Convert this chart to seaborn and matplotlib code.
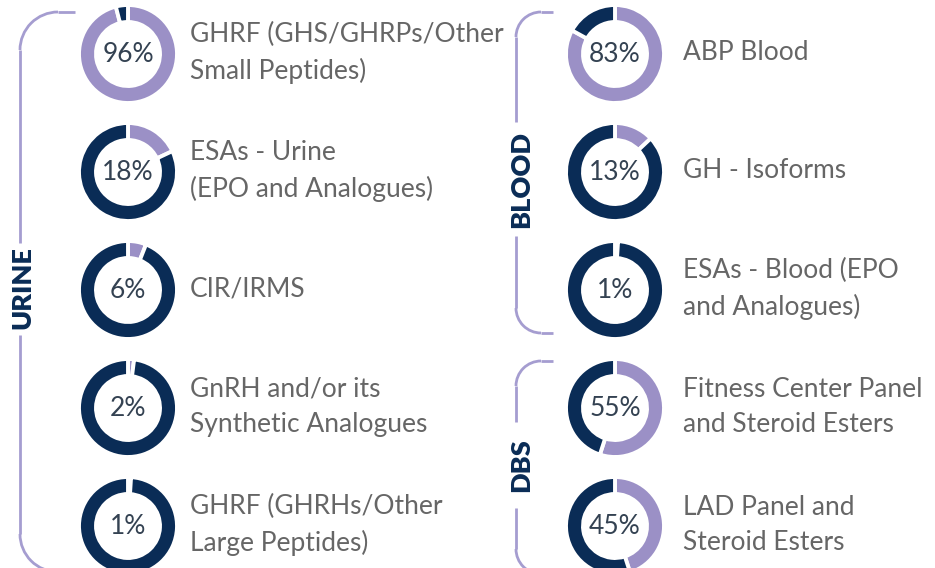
import seaborn as sns
import matplotlib.pyplot as plt
from matplotlib.patches import Arc

# data
urine_labels = ["GHRF (GHS/GHRPs/Other\nSmall Peptides)",
                "ESAs - Urine\n(EPO and Analogues)",
                "CIR/IRMS",
                "GnRH and/or its\nSynthetic Analogues",
                "GHRF (GHRHs/Other\nLarge Peptides)"]
urine_pct = [96, 18, 6, 2, 1]

blood_labels = ["ABP Blood",
                "GH - Isoforms",
                "ESAs - Blood (EPO\nand Analogues)"]
blood_pct = [83, 13, 1]

dbs_labels = ["Fitness Center Panel\nand Steroid Esters",
              "LAD Panel and\nSteroid Esters"]
dbs_pct = [55, 45]

sns.set_theme(style="white")
plt.rcParams["font.family"] = ["Lato", "DejaVu Sans"]

lav = "#9b90c6"
navy = "#0a2c56"
bracket_col = "#a59dd0"
text_col = "#666666"
pct_col = "#344252"

W, H = 935, 568
fig = plt.figure(figsize=(W / 100, H / 100), dpi=100)
ax = fig.add_axes([0, 0, 1, 1])

row_y = [54 + 118 * i for i in range(5)]
outer_r = 49
ring_w = 17


def donut(cx, cy, pct, label, off):
    ax.pie([pct, 100 - pct], colors=[lav, navy], startangle=-90,
           counterclock=True, center=(cx, cy), radius=outer_r, frame=True,
           wedgeprops=dict(width=ring_w, edgecolor="white", linewidth=2.8))
    ax.text(cx, cy + 1, f"{pct}%", ha="center", va="center",
            fontsize=19, color=pct_col)
    ax.text(cx + off, cy - 1, label, ha="left", va="center", fontsize=19,
            color=text_col, linespacing=1.5)


for y, p, lab in zip(row_y, urine_pct, urine_labels):
    donut(128, y, p, lab, 62)
right = list(zip(blood_pct, blood_labels)) + list(zip(dbs_pct, dbs_labels))
for y, (p, lab) in zip(row_y, right):
    donut(615, y, p, lab, 68)


def bracket(x, top, bottom, right_x, r, gap, lw=2):
    ax.plot([x + r, right_x], [top, top], color=bracket_col, lw=lw, solid_capstyle="butt")
    ax.plot([x + r, right_x], [bottom, bottom], color=bracket_col, lw=lw, solid_capstyle="butt")
    ax.add_patch(Arc((x + r, top + r), 2 * r, 2 * r, theta1=180, theta2=270,
                     color=bracket_col, lw=lw))
    ax.add_patch(Arc((x + r, bottom - r), 2 * r, 2 * r, theta1=90, theta2=180,
                     color=bracket_col, lw=lw))
    ax.plot([x, x], [top + r, gap[0]], color=bracket_col, lw=lw, solid_capstyle="butt")
    ax.plot([x, x], [gap[1], bottom - r], color=bracket_col, lw=lw, solid_capstyle="butt")


bracket(20, 12, 572, 75, 38, (243, 335))
bracket(516, 12, 333, 553, 25, (122, 236))
bracket(516, 361, 574, 553, 25, (422, 508))

group_font = dict(rotation=90, ha="center", va="center", color=navy,
                  fontweight="heavy", fontsize=19.5)
ax.text(22, 288, "URINE", **group_font)
ax.text(521, 180, "BLOOD", **group_font)
ax.text(521, 465, "DBS", **group_font)

ax.set_xlim(0, W)
ax.set_ylim(H, 0)
ax.set_aspect("equal")
ax.axis("off")

fig.savefig("out.png", dpi=100)
